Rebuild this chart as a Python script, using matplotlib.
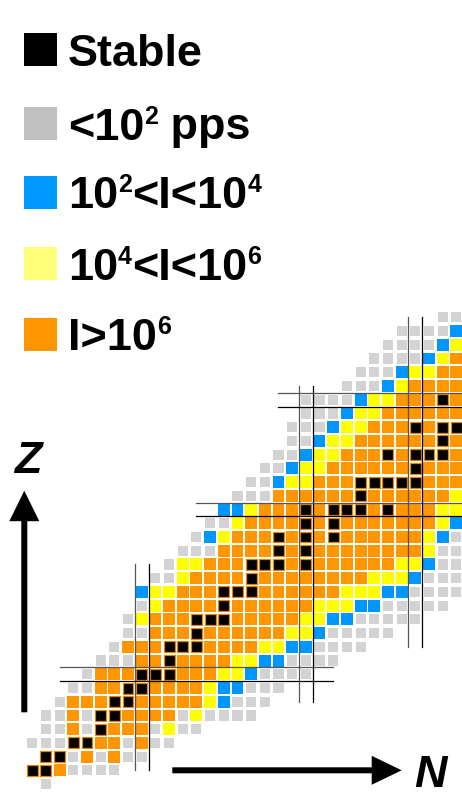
import matplotlib
matplotlib.use("Agg")
import matplotlib.pyplot as plt
from matplotlib.patches import Rectangle, FancyArrow

plt.rcParams["font.family"] = ["Liberation Sans", "DejaVu Sans"]

# One row per proton number Z. n_first is the neutron number of the first cell,
# row_runs lists "<count><code>" runs going to higher N.
# k = stable, g = <1e2 pps, b = 1e2..1e4, y = 1e4..1e6, o = >1e6
z_rows = list(range(35))
n_first = [1, 0, 1, 0, 1, 1, 2, 3, 4, 5, 6, 7, 7, 8, 8, 9, 10, 11,
           12, 13, 14, 15, 16, 17, 18, 19, 19, 20, 20, 23, 24, 25, 26, 27, 30]
row_runs = [
    "1g",
    "2k 1o 4g",
    "2k 1g 1o 1g 1o 2g",
    "3g 2k 2o 1g 1o 2g",
    "2g 1o 1g 1k 3o 1g 1y 2g",
    "2g 1o 1g 2k 4o 1g 1y 4g",
    "1g 3o 2k 5o 1y 1b 3g",
    "2g 2o 2k 4o 1y 2b 3g",
    "1g 3o 3k 3o 2y 1b 4g",
    "3g 2o 1k 4o 2y 2b 4g",
    "1g 3o 3k 4o 2y 2b 4g",
    "2g 3o 1k 6o 2y 1b 5g",
    "1g 1y 3o 3k 5o 2y 2b 5g",
    "1g 1y 4o 1k 6o 3y 2b 5g",
    "1b 2y 3o 3k 6o 3y 2b 4g",
    "2g 1y 4o 1k 8o 3y 1b 3g",
    "1g 2y 3o 3k 1o 1k 6o 2y 1b 2g",
    "3g 4o 1k 1o 1k 8o 1y 2g",
    "1g 1b 1y 3o 1k 1o 1k 1o 1k 6o 1y 1b 1g",
    "2g 1y 4o 1k 1o 1k 7o 1y 1b",
    "2b 1y 3o 1k 1o 3k 1o 1k 3o 2y",
    "3g 6o 1k 6o 1y",
    "2g 1b 2y 3o 5k 3o",
    "2g 1b 2y 6o 1k 3o",
    "2g 1b 2y 3o 1k 1o 3k 1o",
    "2g 1b 2y 6o 1k 1o",
    "3g 1b 2y 3o 1k 1o 2k",
    "3g 1b 2y 6o",
    "4g 1b 2y 3o 1k 1o",
    "3g 1b 1y 4o",
    "3g 1b 2y 2o",
    "4g 1b 1y 1o",
    "4g 1b 1y",
    "4g 1b",
    "2g",
]

cell_colors = {"k": "black", "g": "#d3d3d3", "b": "#0096ff",
               "y": "#ffff00", "o": "#ff9500"}

# magic numbers and the span of their double lines
magic = [8, 20, 28]
vline_z = [(1, 16), (6, 29), (10, 34)]
hline_n = [(2, 22), (12, 32), (18, 32)]

legend_colors = ["#000000", "#c0c0c0", "#0099ff", "#ffff77", "#ff9500"]
legend_labels = [
    [("Stable", False)],
    [("<10", False), ("2", True), (" pps", False)],
    [("10", False), ("2", True), ("<I<10", False), ("4", True)],
    [("10", False), ("4", True), ("<I<10", False), ("6", True)],
    [("I>10", False), ("6", True)],
]
legend_top = [33, 107, 176, 247, 318]

fig = plt.figure(figsize=(4.62, 8.07), dpi=100)

# chart axes in (N, Z) units
ax = fig.add_axes([0, 0, 1, 1])
ax.set_xlim(-2.358, 31.414)
ax.set_ylim(-1.665, 57.111)
ax.axis("off")

for z, n0, runs in zip(z_rows, n_first, row_runs):
    n = n0
    for tok in runs.split():
        cnt, code = int(tok[:-1]), tok[-1]
        for _ in range(cnt):
            if code == "g":
                s = 0.74
                ax.add_patch(Rectangle((n - s / 2, z - s / 2), s, s,
                                       facecolor=cell_colors[code], edgecolor="none"))
            elif code == "k":
                s = 0.8
                ax.add_patch(Rectangle((n - s / 2, z - s / 2), s, s,
                                       facecolor="black", edgecolor="#e08600", lw=0.9))
            else:
                s = 0.87
                ax.add_patch(Rectangle((n - s / 2, z - s / 2), s, s,
                                       facecolor=cell_colors[code], edgecolor="none"))
            n += 1

# double lines around the magic numbers
for m, (z0, z1), (n0, n1) in zip(magic, vline_z, hline_n):
    ax.plot([m - 0.5, m - 0.5], [z0, z1], color="#555555", lw=0.9, zorder=5)
    ax.plot([m + 0.5, m + 0.5], [z0, z1], color="black", lw=0.9, zorder=5)
    ax.plot([n0, n1], [m + 0.5, m + 0.5], color="#555555", lw=0.9, zorder=5)
    ax.plot([n0, n1], [m - 0.5, m - 0.5], color="black", lw=0.9, zorder=5)

# overlay in pixel units for legend and axis arrows
ov = fig.add_axes([0, 0, 1, 1])
ov.set_xlim(0, 462)
ov.set_ylim(807, 0)
ov.axis("off")

renderer = fig.canvas.get_renderer()
for top, col, pieces in zip(legend_top, legend_colors, legend_labels):
    ov.add_patch(Rectangle((24, top), 33, 33, facecolor=col, edgecolor="none"))
    x = 68
    base = top + 32.5
    for text, sup in pieces:
        if sup:
            t = ov.text(x, base - 16, text, fontsize=18, fontweight="bold",
                        ha="left", va="baseline")
        else:
            t = ov.text(x, base, text, fontsize=32.4, fontweight="bold",
                        ha="left", va="baseline")
        x = t.get_window_extent(renderer).x1

ov.add_patch(FancyArrow(24.3, 712.3, 0, -221.6, width=6, head_width=30,
                        head_length=30.5, length_includes_head=True,
                        color="black", lw=0))
ov.add_patch(FancyArrow(172.3, 770.3, 229.4, 0, width=6, head_width=29,
                        head_length=30, length_includes_head=True,
                        color="black", lw=0))
ov.text(27.5, 473.3, "Z", fontsize=32.4, fontweight="bold", style="italic",
        ha="center", va="baseline")
ov.text(430.9, 787.3, "N", fontsize=32.4, fontweight="bold", style="italic",
        ha="center", va="baseline")

fig.savefig("out.png", dpi=100)
